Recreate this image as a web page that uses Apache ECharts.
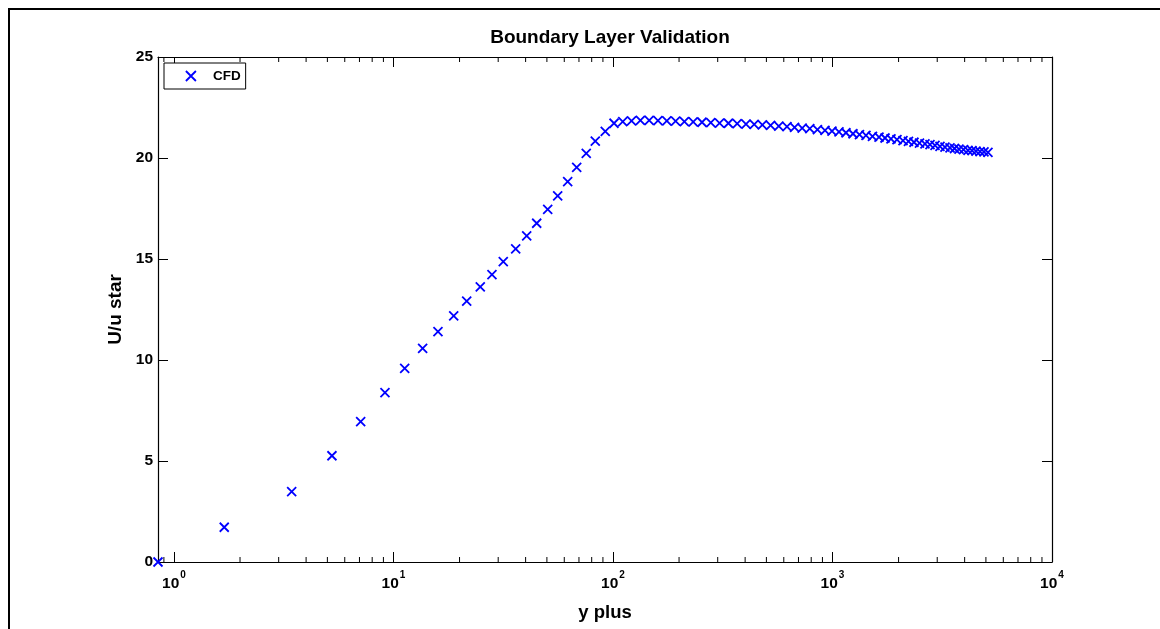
<!DOCTYPE html>
<html>
<head>
<meta charset="utf-8">
<title>Boundary Layer Validation</title>
<script src="https://cdn.jsdelivr.net/npm/echarts@6/dist/echarts.min.js"></script>
<style>
  html, body { margin: 0; padding: 0; background: #fff; }
  #chart { width: 1160px; height: 629px; }
</style>
</head>
<body>
<div id="chart"></div>
<script>
// Wall distance in viscous units (y+) of each cell centre
const yPlus = [
  0.846, 1.695, 3.438, 5.245, 7.089, 9.148, 11.25, 13.58, 15.95, 18.81,
  21.56, 24.86, 28.10, 31.64, 36.04, 40.45, 44.93, 50.42, 55.99, 62.18,
  68.34, 75.55, 83.07, 92.23, 101.1, 110.8, 121.5, 133.3, 146.2, 160.3,
  175.9, 192.9, 211.5, 232.0, 254.4, 279.0, 305.9, 335.6, 368.0, 403.6,
  439.9, 479.3, 522.4, 569.3, 620.4, 671.9, 727.6, 788.1, 853.6, 924.4,
  994.7, 1070.5, 1152, 1240, 1327, 1421, 1521, 1629, 1735, 1847,
  1967, 2095, 2219, 2351, 2491, 2638, 2781, 2931, 3088, 3254,
  3430, 3596, 3770, 3953, 4143, 4321, 4506, 4699, 4900, 5109
];
// Dimensionless velocity U/u* from the CFD solution
const uPlus = [
  0.00, 1.72, 3.48, 5.26, 6.95, 8.38, 9.59, 10.58, 11.40, 12.19,
  12.92, 13.62, 14.23, 14.87, 15.50, 16.14, 16.77, 17.46, 18.12, 18.83,
  19.54, 20.23, 20.83, 21.32, 21.72, 21.80, 21.84, 21.86, 21.86, 21.85,
  21.84, 21.82, 21.80, 21.79, 21.77, 21.75, 21.73, 21.72, 21.70, 21.68,
  21.67, 21.64, 21.61, 21.58, 21.55, 21.52, 21.48, 21.45, 21.41, 21.37,
  21.33, 21.29, 21.25, 21.20, 21.16, 21.12, 21.07, 21.03, 20.99, 20.95,
  20.91, 20.86, 20.82, 20.78, 20.74, 20.70, 20.66, 20.62, 20.58, 20.54,
  20.50, 20.47, 20.44, 20.41, 20.38, 20.36, 20.34, 20.32, 20.30, 20.28
];

const seriesName = 'CFD';
const xRange = [0.846, 10000];
const yRange = [0, 25];
const yStep = 5;
// decades that carry minor ticks at 2..9 (plus 0.9 just above the lower limit)
const minorDecades = [0.1, 1, 10, 100, 1000];

const FONT = "'Liberation Sans', Arial, Helvetica, sans-serif";
const BLUE = '#0000ff';
const crossPath = 'path://M0,0L10,10M10,0L0,10';

const minorTicks = [];
minorDecades.forEach(d => {
  for (let k = 2; k <= 9; k++) {
    const v = k * d;
    if (v > xRange[0] && v < xRange[1]) minorTicks.push([v, yRange[0]]);
  }
});

const points = yPlus.map((x, i) => [x, uPlus[i]]);

function powLabel(v) {
  const l = Math.log10(v);
  const e = Math.round(l);
  if (Math.abs(l - e) > 1e-6) return '';
  return '{b|10}{s|' + e + '}';
}

const chart = echarts.init(document.getElementById('chart'), null, { renderer: 'canvas' });

const axisLine = { show: true, onZero: false, lineStyle: { color: '#000', width: 1.2 } };
const axisTick = { show: true, inside: true, length: 10, lineStyle: { color: '#000', width: 1 } };

chart.setOption({
  animation: false,
  backgroundColor: '#fff',
  title: {
    text: 'Boundary Layer Validation',
    left: 605,
    top: 23,
    textAlign: 'center',
    textStyle: { fontFamily: FONT, fontWeight: 'bold', fontSize: 19, color: '#000' }
  },
  graphic: [{
    type: 'rect',
    shape: { x: 9, y: 9, width: 1300, height: 800 },
    style: { fill: 'none', stroke: '#000', lineWidth: 2 },
    silent: true,
    z: 100
  }],
  legend: {
    left: 164,
    top: 63,
    orient: 'vertical',
    backgroundColor: '#fff',
    borderColor: '#000',
    borderWidth: 1,
    padding: [6, 5, 6, 21],
    itemWidth: 10,
    itemHeight: 10,
    data: [{
      name: seriesName,
      icon: crossPath,
      itemStyle: { color: 'transparent', borderColor: BLUE, borderWidth: 1.8 }
    }],
    textStyle: { fontFamily: FONT, fontWeight: 'bold', fontSize: 13.5, color: '#000', padding: [0, 0, 0, 12] }
  },
  grid: { left: 158, right: 108, top: 57, bottom: 67, containLabel: false },
  xAxis: [{
    type: 'log',
    logBase: 10,
    min: xRange[0],
    max: xRange[1],
    position: 'bottom',
    name: 'y plus',
    nameLocation: 'middle',
    nameGap: 41,
    nameTextStyle: { fontFamily: FONT, fontWeight: 'bold', fontSize: 18.5, color: '#000' },
    axisLine: axisLine,
    axisTick: axisTick,
    splitLine: { show: false },
    minorTick: { show: false },
    axisLabel: {
      margin: 8,
      formatter: powLabel,
      showMinLabel: true,
      showMaxLabel: true,
      rich: {
        b: { fontFamily: FONT, fontWeight: 'bold', fontSize: 15.5, color: '#000', lineHeight: 22, verticalAlign: 'bottom' },
        s: { fontFamily: FONT, fontWeight: 'bold', fontSize: 10, color: '#000', lineHeight: 22, verticalAlign: 'top', padding: [0, 0, 0, 1] }
      }
    }
  }, {
    type: 'log',
    logBase: 10,
    min: xRange[0],
    max: xRange[1],
    position: 'top',
    axisLine: axisLine,
    axisTick: axisTick,
    axisLabel: { show: false },
    splitLine: { show: false }
  }],
  yAxis: [{
    type: 'value',
    min: yRange[0],
    max: yRange[1],
    interval: yStep,
    position: 'left',
    name: 'U/u star',
    nameLocation: 'middle',
    nameGap: 28,
    nameRotate: 90,
    nameTextStyle: { fontFamily: FONT, fontWeight: 'bold', fontSize: 19, color: '#000' },
    axisLine: axisLine,
    axisTick: axisTick,
    splitLine: { show: false },
    axisLabel: { margin: 5, fontFamily: FONT, fontWeight: 'bold', fontSize: 15.5, color: '#000' }
  }, {
    type: 'value',
    min: yRange[0],
    max: yRange[1],
    interval: yStep,
    position: 'right',
    axisLine: axisLine,
    axisTick: axisTick,
    axisLabel: { show: false },
    splitLine: { show: false }
  }],
  series: [{
    name: seriesName,
    type: 'scatter',
    xAxisIndex: 0,
    yAxisIndex: 0,
    data: points,
    symbol: crossPath,
    symbolSize: 9,
    itemStyle: { color: 'transparent', borderColor: BLUE, borderWidth: 1.8, opacity: 1 },
    emphasis: { disabled: true },
    z: 5
  }, {
    name: 'minor ticks',
    type: 'custom',
    xAxisIndex: 0,
    yAxisIndex: 0,
    silent: true,
    clip: false,
    data: minorTicks,
    renderItem: function (params, api) {
      const v = api.value(0);
      const b = api.coord([v, yRange[0]]);
      const t = api.coord([v, yRange[1]]);
      const st = { stroke: '#000', lineWidth: 1 };
      return {
        type: 'group',
        children: [
          { type: 'line', shape: { x1: b[0], y1: b[1], x2: b[0], y2: b[1] - 5 }, style: st },
          { type: 'line', shape: { x1: t[0], y1: t[1], x2: t[0], y2: t[1] + 5 }, style: st }
        ]
      };
    },
    z: 3
  }]
});
</script>
</body>
</html>
